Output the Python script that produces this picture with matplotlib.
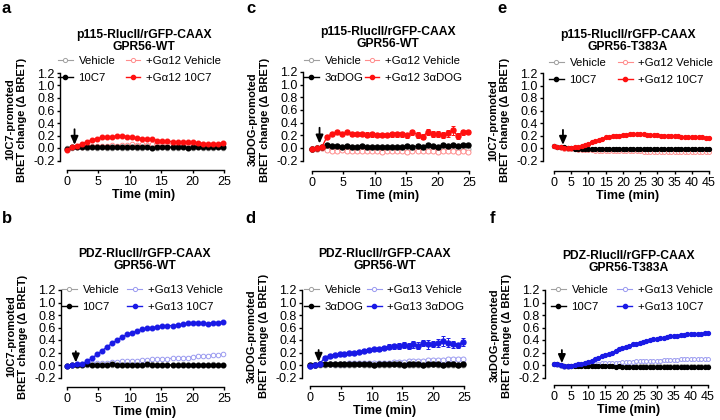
import numpy as np
import matplotlib
matplotlib.use('Agg')
import matplotlib.pyplot as plt

plt.rcParams['font.family'] = ['Liberation Sans', 'DejaVu Sans']

# time points (min)
t_short = np.arange(32) * 0.8
t_long = np.arange(46) * 1.0

# a: p115 / GPR56-WT / 10C7
a_veh = [0.0, 0.0, 0.01, 0.01, 0.0, 0.01, 0.0, 0.01, 0.0, 0.0, 0.01, 0.0, 0.0, 0.01, 0.0, 0.0,
         0.01, 0.0, 0.0, 0.01, 0.0, 0.0, 0.0, 0.01, 0.0, 0.0, 0.01, 0.0, 0.0, 0.0, 0.01, 0.0]
a_stim = [-0.01, 0.01, 0.01, 0.02, 0.01, 0.02, 0.02, 0.01, 0.02, 0.02, 0.01, 0.02, 0.01, 0.02, 0.01, 0.02,
          0.01, 0.0, 0.01, 0.01, 0.02, 0.01, 0.02, 0.01, 0.0, 0.01, 0.02, 0.01, 0.01, 0.02, 0.01, 0.02]
a_gveh = [-0.02, 0.01, 0.02, 0.02, 0.03, 0.03, 0.04, 0.03, 0.04, 0.05, 0.04, 0.05, 0.05, 0.06, 0.05, 0.06,
          0.05, 0.06, 0.07, 0.06, 0.06, 0.07, 0.06, 0.07, 0.06, 0.06, 0.07, 0.06, 0.05, 0.06, 0.05, 0.06]
a_gstim = [-0.03, 0.02, 0.04, 0.07, 0.1, 0.13, 0.15, 0.17, 0.17, 0.18, 0.19, 0.2, 0.18, 0.17, 0.16, 0.15,
           0.15, 0.14, 0.12, 0.12, 0.11, 0.1, 0.1, 0.09, 0.1, 0.09, 0.08, 0.07, 0.07, 0.06, 0.07, 0.08]

# b: PDZ / GPR56-WT / 10C7
b_veh = [-0.01, 0.0, 0.0, 0.01, 0.0, 0.0, 0.0, 0.01, 0.0, 0.0, 0.0, 0.0, 0.01, 0.0, 0.0, 0.0,
         0.0, 0.01, 0.0, 0.0, 0.0, 0.0, 0.0, 0.01, 0.0, 0.0, 0.0, 0.0, 0.0, 0.01, 0.0, 0.0]
b_stim = [-0.01, 0.0, 0.0, 0.0, 0.01, 0.0, 0.0, 0.0, 0.0, 0.01, 0.0, 0.0, 0.0, 0.0, 0.0, 0.0,
          0.01, 0.0, 0.0, 0.0, 0.0, 0.0, 0.0, 0.0, 0.0, 0.0, 0.0, 0.0, 0.0, 0.0, 0.0, 0.0]
b_gveh = [-0.02, 0.0, 0.01, 0.02, 0.02, 0.03, 0.03, 0.04, 0.04, 0.05, 0.05, 0.06, 0.06, 0.07, 0.07, 0.08,
          0.08, 0.09, 0.1, 0.1, 0.1, 0.11, 0.11, 0.12, 0.12, 0.13, 0.14, 0.15, 0.15, 0.16, 0.16, 0.17]
b_gstim = [-0.01, 0.0, 0.01, 0.02, 0.06, 0.11, 0.17, 0.23, 0.29, 0.35, 0.4, 0.45, 0.49, 0.52, 0.54, 0.57,
           0.59, 0.6, 0.61, 0.62, 0.63, 0.63, 0.64, 0.65, 0.67, 0.68, 0.68, 0.67, 0.66, 0.68, 0.68, 0.69]

# c: p115 / GPR56-WT / 3aDOG
c_veh = [-0.02, -0.01, 0.0, 0.0, 0.0, 0.0, -0.01, 0.0, 0.0, 0.0, -0.01, 0.0, 0.0, -0.01, 0.0, 0.0,
         -0.01, 0.0, 0.0, -0.01, 0.0, -0.01, 0.0, 0.0, -0.01, 0.0, 0.0, -0.01, 0.0, -0.01, 0.0, -0.02]
c_stim = [-0.02, 0.0, 0.01, 0.04, 0.03, 0.03, 0.02, 0.03, 0.02, 0.02, 0.03, 0.02, 0.02, 0.01, 0.02, 0.02,
          0.01, 0.02, 0.02, 0.03, 0.02, 0.03, 0.02, 0.04, 0.03, 0.02, 0.05, 0.03, 0.04, 0.03, 0.04, 0.05]
c_gveh = [-0.02, -0.01, 0.0, -0.03, -0.04, -0.04, -0.03, -0.04, -0.04, -0.05, -0.04, -0.04, -0.05, -0.04, -0.06, -0.05,
          -0.05, -0.04, -0.05, -0.06, -0.05, -0.05, -0.04, -0.05, -0.05, -0.06, -0.04, -0.05, -0.05, -0.06, -0.05, -0.06]
c_gstim = [-0.02, 0.0, 0.02, 0.18, 0.22, 0.25, 0.22, 0.25, 0.22, 0.22, 0.22, 0.21, 0.22, 0.2, 0.2, 0.2,
           0.22, 0.22, 0.22, 0.2, 0.25, 0.21, 0.18, 0.25, 0.22, 0.22, 0.21, 0.23, 0.28, 0.19, 0.25, 0.25]
c_gerr = [0.01, 0.01, 0.01, 0.02, 0.02, 0.02, 0.02, 0.02, 0.03, 0.03, 0.03, 0.04, 0.04, 0.03, 0.03, 0.03,
          0.04, 0.04, 0.04, 0.04, 0.04, 0.05, 0.04, 0.05, 0.05, 0.05, 0.05, 0.06, 0.07, 0.05, 0.04, 0.03]

# d: PDZ / GPR56-WT / 3aDOG
d_veh = [-0.01, 0.0, 0.0, 0.0, 0.01, 0.0, 0.0, 0.0, 0.0, 0.0, 0.01, 0.0, 0.0, 0.0, 0.0, 0.0,
         0.0, 0.01, 0.0, 0.0, 0.0, 0.0, 0.0, 0.0, 0.0, 0.01, 0.0, 0.0, 0.0, 0.0, 0.0, 0.0]
d_stim = [0.0, 0.0, 0.01, 0.01, 0.01, 0.02, 0.01, 0.01, 0.01, 0.02, 0.01, 0.01, 0.01, 0.0, 0.01, 0.01,
          0.01, 0.01, 0.01, 0.0, 0.01, 0.01, 0.01, 0.0, 0.01, 0.01, 0.01, 0.0, 0.01, 0.01, 0.0, 0.01]
d_gveh = [-0.02, 0.0, 0.01, 0.02, 0.02, 0.02, 0.02, 0.02, 0.03, 0.03, 0.03, 0.03, 0.03, 0.03, 0.04, 0.04,
          0.04, 0.05, 0.05, 0.05, 0.06, 0.07, 0.07, 0.07, 0.08, 0.08, 0.08, 0.08, 0.09, 0.09, 0.1, 0.1]
d_gstim = [-0.02, 0.0, 0.02, 0.12, 0.15, 0.16, 0.17, 0.18, 0.19, 0.2, 0.21, 0.23, 0.24, 0.25, 0.26, 0.28,
           0.29, 0.3, 0.31, 0.32, 0.31, 0.33, 0.31, 0.35, 0.33, 0.34, 0.35, 0.38, 0.36, 0.33, 0.32, 0.37]
d_gerr = [0.01, 0.01, 0.01, 0.02, 0.02, 0.02, 0.02, 0.02, 0.02, 0.02, 0.02, 0.02, 0.03, 0.03, 0.03, 0.03,
          0.04, 0.04, 0.05, 0.05, 0.05, 0.05, 0.06, 0.05, 0.07, 0.05, 0.06, 0.08, 0.07, 0.05, 0.04, 0.06]

# e: p115 / GPR56-T383A / 10C7
e_veh = [0.03, 0.02, 0.01, 0.0, -0.01, -0.01, -0.01, -0.02, -0.02, -0.02, -0.02, -0.02, -0.02, -0.02, -0.02, -0.02,
         -0.02, -0.02, -0.03, -0.02, -0.03, -0.03, -0.02, -0.03, -0.03, -0.03, -0.03, -0.03, -0.03, -0.03, -0.03,
         -0.03, -0.03, -0.03, -0.03, -0.03, -0.03, -0.03, -0.03, -0.03, -0.03, -0.03, -0.03, -0.03, -0.03, -0.03]
e_stim = [0.03, 0.02, 0.01, 0.01, 0.0, 0.0, -0.01, -0.01, -0.01, -0.01, -0.02, -0.02, -0.02, -0.02, -0.02, -0.02,
          -0.02, -0.02, -0.02, -0.02, -0.02, -0.02, -0.02, -0.02, -0.02, -0.02, -0.02, -0.02, -0.02, -0.02, -0.02,
          -0.02, -0.02, -0.02, -0.02, -0.02, -0.02, -0.02, -0.02, -0.02, -0.02, -0.02, -0.02, -0.02, -0.02, -0.02]
e_gveh = [0.03, 0.02, 0.0, -0.01, -0.02, -0.02, -0.02, -0.03, -0.03, -0.03, -0.03, -0.03, -0.04, -0.04, -0.04, -0.04,
          -0.04, -0.04, -0.05, -0.05, -0.05, -0.05, -0.05, -0.05, -0.05, -0.05, -0.06, -0.06, -0.06, -0.06, -0.06,
          -0.06, -0.06, -0.06, -0.06, -0.07, -0.07, -0.07, -0.07, -0.07, -0.07, -0.07, -0.07, -0.07, -0.07, -0.07]
e_gstim = [0.03, 0.02, 0.01, 0.0, 0.0, 0.0, 0.01, 0.02, 0.03, 0.05, 0.07, 0.09, 0.11, 0.13, 0.15, 0.17,
           0.18, 0.19, 0.2, 0.2, 0.21, 0.21, 0.22, 0.22, 0.22, 0.22, 0.22, 0.21, 0.21, 0.21, 0.21,
           0.2, 0.2, 0.2, 0.19, 0.19, 0.19, 0.18, 0.18, 0.18, 0.17, 0.17, 0.17, 0.17, 0.16, 0.16]

# f: PDZ / GPR56-T383A / 10C7
f_veh = [0.02, 0.01, 0.0, -0.01, -0.01, -0.01, -0.02, -0.02, -0.02, -0.02, -0.02, -0.02, -0.02, -0.02, -0.02, -0.02,
         -0.02, -0.02, -0.02, -0.02, -0.02, -0.02, -0.02, -0.02, -0.02, -0.02, -0.02, -0.02, -0.02, -0.02, -0.02,
         -0.02, -0.02, -0.02, -0.02, -0.02, -0.02, -0.02, -0.02, -0.02, -0.02, -0.02, -0.02, -0.02, -0.02, -0.02]
f_stim = [0.02, 0.01, 0.0, -0.01, -0.01, -0.01, -0.02, -0.02, -0.02, -0.02, -0.02, -0.02, -0.02, -0.02, -0.02, -0.02,
          -0.02, -0.02, -0.03, -0.02, -0.03, -0.03, -0.03, -0.03, -0.03, -0.03, -0.03, -0.03, -0.03, -0.03, -0.03,
          -0.03, -0.03, -0.03, -0.03, -0.03, -0.03, -0.03, -0.03, -0.03, -0.03, -0.03, -0.03, -0.03, -0.03, -0.03]
f_gveh = [0.02, 0.0, -0.02, -0.03, -0.03, -0.02, -0.01, 0.0, 0.0, 0.01, 0.01, 0.02, 0.02, 0.02, 0.03, 0.03,
          0.03, 0.04, 0.04, 0.04, 0.05, 0.05, 0.05, 0.05, 0.06, 0.06, 0.06, 0.06, 0.07, 0.07, 0.07,
          0.07, 0.08, 0.08, 0.08, 0.08, 0.08, 0.09, 0.09, 0.09, 0.09, 0.09, 0.1, 0.1, 0.1, 0.1]
f_gstim = [0.02, 0.01, 0.0, -0.01, -0.01, -0.01, 0.0, 0.01, 0.02, 0.04, 0.05, 0.07, 0.09, 0.12, 0.14, 0.16,
           0.18, 0.2, 0.23, 0.25, 0.27, 0.29, 0.31, 0.33, 0.34, 0.36, 0.37, 0.39, 0.4, 0.41, 0.42,
           0.43, 0.44, 0.45, 0.46, 0.46, 0.47, 0.48, 0.48, 0.49, 0.49, 0.5, 0.5, 0.5, 0.51, 0.51]

W, H = 720, 420
RED, LRED = '#ff1010', '#ff8c8c'
BLUE, LBLUE = '#1a1ae6', '#9a9af0'
GREY = '#a0a0a0'

fig = plt.figure(figsize=(7.2, 4.2), dpi=100)


def make_axes(spine_x, x0, x1, xmax, y0, y12, xaxis_y):
    # place axes so that data coords land on the pixel positions
    kx = (x1 - x0) / xmax
    ky = (y0 - y12) / 1.2
    right = x1 + 4
    top = y12 - 4
    ax = fig.add_axes([spine_x / W, 1 - xaxis_y / H, (right - spine_x) / W, (xaxis_y - top) / H])
    ax.set_xlim((spine_x - x0) / kx, (right - x0) / kx)
    ax.set_ylim(-(xaxis_y - y0) / ky, (y0 - top) / ky)
    for s in ['top', 'right']:
        ax.spines[s].set_visible(False)
    for s in ['left', 'bottom']:
        ax.spines[s].set_linewidth(1.0)
    ax.spines['left'].set_bounds(-0.2, 1.2)
    ax.spines['bottom'].set_bounds(0, xmax)
    ax.set_yticks(np.arange(-0.2, 1.21, 0.2))
    ax.set_yticklabels(['-0.2', '0.0', '0.2', '0.4', '0.6', '0.8', '1.0', '1.2'])
    ax.set_xticks(np.arange(0, xmax + 1, 5))
    ax.tick_params(direction='out', length=2.5, width=1.0, labelsize=9, pad=1.5)
    ax.patch.set_visible(False)
    return ax


def panel(spec, t, veh, stim, gveh, gstim, gerr=None):
    ax = make_axes(*spec['geom'])
    col, lcol = spec['colors']
    agent = spec['agent']
    g = spec['g']
    ms = spec['ms']
    ax.plot(t, veh, '-o', color=GREY, mfc='white', ms=ms, mew=0.7, lw=0.8, label='Vehicle')
    ax.plot(t, gveh, '-o', color=lcol, mfc='white', ms=ms, mew=0.7, lw=0.8, label='+G\u03b1' + g + ' Vehicle')
    ax.plot(t, stim, '-o', color='black', ms=ms, lw=1.0, label=agent)
    if gerr is not None:
        ax.errorbar(t, gstim, yerr=gerr, fmt='none', ecolor=col, elinewidth=0.7, capsize=1.5, capthick=0.7)
    ax.plot(t, gstim, '-o', color=col, ms=ms, lw=1.0, label='+G\u03b1' + g + ' ' + agent)

    h, l = ax.get_legend_handles_labels()
    order = [0, 2, 1, 3]
    lx, ly, cs = spec['legend']
    ax.legend([h[i] for i in order], [l[i] for i in order], ncol=2, loc='upper left',
              bbox_to_anchor=(lx / W, 1 - ly / H), bbox_transform=fig.transFigure,
              frameon=False, fontsize=8.2, handlelength=1.3, handletextpad=0.5,
              columnspacing=cs, labelspacing=0.6, borderpad=0, borderaxespad=0,
              markerscale=3.0 / ms)

    ta, ytop, ytip = spec['arrow']
    ax.annotate('', xy=(ta, ytip), xytext=(ta, ytop),
                arrowprops=dict(arrowstyle='-|>,head_width=0.22,head_length=0.5', color='black',
                                lw=1.3, shrinkA=0, shrinkB=0))

    ax.set_title(spec['title'], fontsize=8.7, fontweight='bold', pad=spec['tpad'], linespacing=1.0)
    ax.set_ylabel(spec['ylabel'], fontsize=8, fontweight='bold', linespacing=1.25)
    axw = ax.get_position().width * W
    ax.yaxis.set_label_coords(-33 / axw, 0.5)
    ax.set_xlabel('Time (min)', fontsize=9, fontweight='bold', labelpad=1)
    lx_, ly_ = spec['letter']
    fig.text(lx_ / W, 1 - ly_ / H, spec['letter_txt'], fontsize=12, fontweight='bold', ha='left', va='top')
    return ax


lab_10c7 = '10C7-promoted\nBRET change (\u0394 BRET)'
lab_dog = '3\u03b1DOG-promoted\nBRET change (\u0394 BRET)'

panel(dict(geom=(60, 67, 224, 25, 148, 73, 170), colors=(RED, LRED), agent='10C7', g='12', ms=3.3,
           legend=(58, 56, 0.9), arrow=(1.2, 0.3, 0.05), title='p115-RlucII/rGFP-CAAX\nGPR56-WT',
           tpad=14, ylabel=lab_10c7, letter=(2, 1), letter_txt='a'),
      t_short, a_veh, a_stim, a_gveh, a_gstim)
panel(dict(geom=(61, 67, 224, 25, 365, 290, 387), colors=(BLUE, LBLUE), agent='10C7', g='13', ms=3.3,
           legend=(62, 285, 0.7), arrow=(1.4, 0.22, 0.04), title='PDZ-RlucII/rGFP-CAAX\nGPR56-WT',
           tpad=12, ylabel=lab_10c7, letter=(2, 211), letter_txt='b'),
      t_short, b_veh, b_stim, b_gveh, b_gstim)
panel(dict(geom=(303, 312, 469, 25, 148, 72, 171), colors=(RED, LRED), agent='3\u03b1DOG', g='12', ms=3.6,
           legend=(304, 56, 0.1), arrow=(1.2, 0.32, 0.07), title='p115-RlucII/rGFP-CAAX\nGPR56-WT',
           tpad=15, ylabel=lab_dog, letter=(246, 1), letter_txt='c'),
      t_short, c_veh, c_stim, c_gveh, c_gstim, c_gerr)
panel(dict(geom=(302, 310, 464, 25, 365, 290, 386), colors=(BLUE, LBLUE), agent='3\u03b1DOG', g='13', ms=3.6,
           legend=(304, 285, 0.3), arrow=(1.4, 0.24, 0.05), title='PDZ-RlucII/rGFP-CAAX\nGPR56-WT',
           tpad=12, ylabel=lab_dog, letter=(245, 211), letter_txt='d'),
      t_short, d_veh, d_stim, d_gveh, d_gstim, d_gerr)
panel(dict(geom=(543, 554, 709, 45, 148, 73, 171), colors=(RED, LRED), agent='10C7', g='12', ms=2.8,
           legend=(549, 58, 1.0), arrow=(2.6, 0.29, 0.05), title='p115-RlucII/rGFP-CAAX\nGPR56-T383A',
           tpad=14, ylabel=lab_10c7, letter=(497, 1), letter_txt='e'),
      t_long, e_veh, e_stim, e_gveh, e_gstim)
panel(dict(geom=(545, 554, 708, 45, 365, 290, 385), colors=(BLUE, LBLUE), agent='10C7', g='13', ms=2.8,
           legend=(551, 285, 0.8), arrow=(2.3, 0.24, 0.03), title='PDZ-RlucII/rGFP-CAAX\nGPR56-T383A',
           tpad=11, ylabel=lab_dog, letter=(490, 211), letter_txt='f'),
      t_long, f_veh, f_stim, f_gveh, f_gstim)

fig.savefig('out.png', dpi=100)
